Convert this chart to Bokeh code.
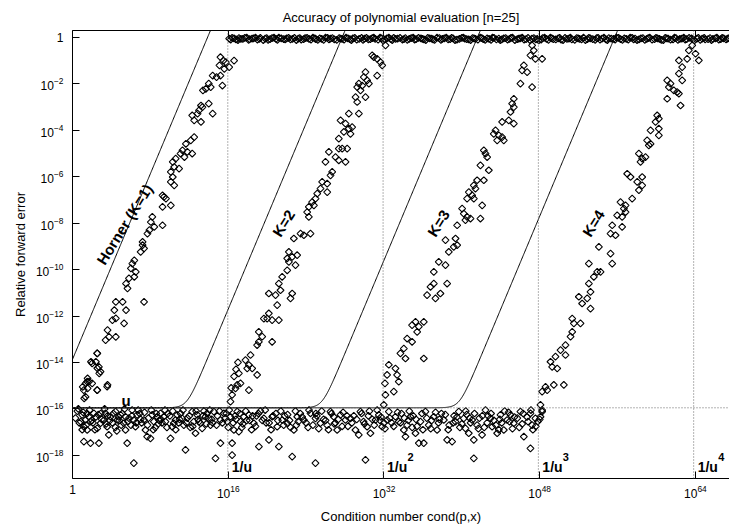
import math
import numpy as np
from bokeh.plotting import figure
from bokeh.models import LogAxis, FixedTicker, LogTickFormatter, Span, Title
from bokeh.core.properties import value
from bokeh.embed import file_html
from bokeh.resources import INLINE

FONT = "Liberation Sans"

title_text = "Accuracy of polynomial evaluation [n=25]"
x_label_text = "Condition number cond(p,x)"
y_label_text = "Relative forward error"

# unit roundoff (double precision)
u = 2.0 ** -53

# tick exponents (base 10)
x_tick_exp = [0, 16, 32, 48, 64]
y_tick_exp = [-18, -16, -14, -12, -10, -8, -6, -4, -2, 0]

# a-priori bounds: error <= u + c_K * cond, c_K = 10**exp
bound_names = ["Horner (K=1)", "K=2", "K=3", "K=4"]
bound_coef_exp = [-13.87, -27.7, -41.6, -55.7]

# powers of 1/u marked by vertical dotted lines
inv_u_powers = [1, 2, 3, 4]

# measured points: (log10 cond, log10 relative error)
horner_pts = [
    (15.2, -0.85), (15.5, -1.0), (15.75, -1.06), (16.1, -1.28), (16.6, -1.0), (15.6, -1.35), (15.1, -1.2),
    (14.4, -1.64), (14.8, -1.71), (15.2, -1.64), (14.0, -1.99), (14.2, -2.14), (15.4, -2.07), (13.4, -2.28),
    (13.7, -2.21), (13.2, -2.93), (13.0, -3.14), (12.85, -3.28), (13.35, -3.0), (14.0, -2.85), (12.3, -3.36),
    (12.5, -3.57), (13.2, -3.64), (14.4, -3.28), (12.5, -4.29), (12.15, -4.43), (11.65, -4.58), (11.3, -4.86),
    (11.1, -5.0), (11.5, -5.15), (11.8, -4.93), (12.3, -5.0), (10.6, -5.22), (10.3, -5.36), (10.45, -5.58),
    (10.95, -5.65), (10.1, -5.79), (10.3, -6.01), (10.1, -6.22), (10.45, -6.37), (9.25, -6.8), (9.4, -6.87),
    (9.6, -6.94), (9.25, -7.3), (10.1, -7.23), (8.2, -7.73), (8.05, -7.95), (8.4, -8.16), (7.9, -8.3),
    (7.7, -8.45), (9.25, -8.09), (7.2, -8.81), (7.35, -9.09), (7.0, -9.24), (7.2, -8.95), (6.35, -9.6),
    (6.15, -9.74), (6.0, -9.95), (6.5, -10.1), (5.8, -10.38), (5.5, -10.6), (5.65, -10.81), (6.35, -10.31),
    (4.45, -11.39), (5.15, -11.39), (4.3, -11.75), (5.5, -11.75), (4.45, -12.1), (4.1, -12.18), (5.3, -12.32),
    (3.6, -12.61), (3.75, -12.9), (3.4, -13.04), (4.45, -12.9), (7.35, -11.39), (2.55, -13.61), (2.4, -13.97),
    (1.9, -13.97), (2.55, -14.25), (2.75, -14.47), (1.55, -14.69), (1.35, -14.9), (1.05, -15.05), (1.7, -14.83),
    (1.55, -15.12), (1.2, -15.55), (2.55, -15.19), (3.6, -14.97), (1.16, -15.19), (1.51, -14.83), (2.02, -14.9),
    (2.53, -15.19), (1.34, -15.48), (3.56, -15.04), (2.53, -13.61), (2.02, -14.04), (2.71, -14.19), (2.88, -14.4),
]

k2_pts = [
    (30.79, -0.77), (31.3, -0.92), (31.64, -1.06), (31.82, -1.2), (30.96, -0.85), (32.16, -0.34), (31.3, -1.64),
    (30.1, -1.49), (29.93, -1.71), (30.27, -1.85), (29.42, -1.99), (29.25, -2.14), (29.76, -2.07), (30.45, -1.99),
    (29.59, -2.28), (29.08, -2.57), (30.1, -2.57), (29.25, -2.78), (28.39, -3.28), (29.42, -3.28), (27.54, -3.57),
    (28.05, -3.71), (28.39, -3.93), (28.73, -3.86), (27.88, -4.07), (28.56, -4.15), (27.36, -4.36), (26.34, -4.93),
    (27.36, -4.79), (27.71, -4.79), (28.22, -4.79), (27.02, -5.15), (27.36, -5.29), (28.05, -5.36), (25.99, -5.36),
    (26.68, -5.79), (26.51, -5.94), (25.65, -6.22), (26.17, -6.3), (25.48, -6.51), (26.17, -6.66), (25.14, -6.73),
    (24.97, -6.94), (24.62, -7.09), (24.28, -7.3), (24.8, -7.23), (24.11, -7.52), (24.28, -7.73), (24.45, -8.45),
    (23.77, -8.52), (23.43, -8.45), (22.74, -8.66), (22.23, -9.24), (22.06, -9.52), (22.57, -9.45), (23.08, -9.38),
    (22.23, -9.67), (22.91, -9.81), (22.06, -10.03), (21.54, -10.31), (21.2, -10.6), (21.37, -10.89), (20.17, -11.03),
    (20.86, -11.1), (22.57, -11.03), (22.4, -11.24), (21.03, -11.53), (20.17, -11.89), (20.0, -12.11), (20.51, -12.18),
    (19.66, -12.11), (21.2, -12.18), (19.14, -12.68), (19.49, -12.89), (19.14, -13.11), (18.97, -13.25),
    (20.51, -13.11), (18.29, -13.68), (17.77, -13.9), (18.12, -14.11), (18.46, -14.26), (17.95, -14.26),
    (18.97, -14.54), (17.09, -14.47), (17.26, -14.9), (16.92, -14.97), (16.75, -15.12), (16.4, -15.4),
    (18.12, -15.19), (16.23, -15.69), (16.3, -15.1), (16.8, -14.3), (16.6, -14.6), (17.0, -14.0),
]

k3_pts = [
    (47.22, -0.34), (47.39, -0.56), (47.05, -0.77), (47.56, -0.92), (48.25, -0.92), (46.37, -1.2), (46.19, -1.42),
    (46.71, -1.49), (46.02, -1.99), (47.22, -2.14), (45.34, -2.64), (45.17, -2.85), (45.34, -3.0), (45.0, -3.21),
    (44.82, -3.57), (45.34, -3.71), (44.14, -3.64), (43.46, -4.0), (43.28, -4.15), (43.8, -4.22), (44.14, -4.29),
    (44.31, -4.43), (43.63, -4.43), (42.26, -4.86), (42.43, -5.0), (42.6, -5.15), (41.91, -5.51), (42.77, -5.72),
    (41.57, -6.15), (42.26, -6.15), (41.23, -6.37), (41.4, -6.51), (40.72, -6.66), (41.06, -6.8), (40.54, -6.94),
    (41.23, -6.94), (42.09, -7.23), (40.03, -7.37), (40.2, -7.59), (40.54, -7.73), (40.89, -7.8), (40.37, -7.87),
    (41.91, -7.8), (39.52, -8.09), (39.35, -8.66), (39.52, -8.95), (39.17, -9.02), (38.32, -8.73), (38.66, -9.24),
    (37.63, -9.67), (38.32, -9.81), (37.12, -10.1), (37.12, -10.6), (36.78, -10.74), (36.43, -11.1), (37.8, -11.03),
    (37.29, -11.24), (38.49, -10.6), (35.24, -12.25), (34.89, -12.39), (35.58, -12.46), (36.09, -12.25),
    (35.41, -12.68), (34.38, -12.97), (34.89, -13.11), (34.04, -13.4), (33.69, -13.61), (34.21, -13.83),
    (36.09, -13.83), (33.18, -14.26), (32.32, -14.54), (33.35, -14.54), (33.52, -14.83), (33.01, -15.26),
    (32.15, -15.4), (31.98, -15.83), (32.1, -14.9), (32.5, -14.1),
]

k4_pts = [
    (63.67, -0.34), (63.32, -0.56), (64.01, -0.7), (64.35, -0.99), (63.15, -0.92), (62.3, -0.99), (62.64, -1.28),
    (62.3, -1.56), (62.64, -1.85), (61.1, -1.85), (61.44, -1.99), (61.27, -2.14), (61.78, -2.28), (62.12, -2.35),
    (62.3, -2.42), (61.1, -2.64), (62.47, -2.93), (60.07, -3.36), (60.24, -3.5), (59.9, -3.64), (59.39, -4.0),
    (60.24, -3.93), (60.24, -4.22), (59.04, -4.43), (59.39, -4.58), (59.21, -4.65), (58.19, -5.0), (58.53, -5.22),
    (58.87, -5.15), (58.36, -5.36), (56.99, -5.87), (57.33, -6.01), (58.53, -6.01), (58.02, -6.22), (58.53, -6.37),
    (58.19, -6.58), (56.3, -7.09), (56.82, -7.23), (57.5, -6.94), (56.65, -7.37), (56.82, -7.52), (56.47, -7.73),
    (55.96, -7.66), (55.45, -8.09), (56.47, -8.16), (55.28, -8.45), (55.79, -8.52), (54.08, -9.02), (55.28, -9.31),
    (55.45, -9.74), (53.05, -9.74), (53.91, -10.1), (54.25, -10.1), (53.56, -10.31), (53.05, -10.6), (53.22, -10.96),
    (52.88, -11.24), (52.02, -11.17), (52.36, -11.46), (53.22, -11.68), (51.34, -12.11), (51.51, -12.32),
    (52.19, -12.32), (51.17, -12.89), (51.34, -12.68), (50.65, -13.25), (50.14, -13.47), (50.65, -13.68),
    (49.62, -13.75), (49.11, -13.97), (49.8, -14.26), (49.28, -14.19), (50.48, -14.97), (48.6, -15.05),
    (48.25, -15.26), (48.77, -15.19), (49.45, -14.97), (48.08, -15.83), (48.25, -16.12),
]

# errors that stay at the level of u (accurate results)
floor_pts = [
    (0.99, -16.26), (1.34, -16.48), (1.68, -16.34), (1.17, -16.77), (1.85, -16.55), (2.2, -16.19), (1.17, -17.41),
    (1.85, -17.48), (2.71, -17.48), (1.51, -16.91), (2.54, -16.84), (2.88, -16.62), (3.39, -16.19), (3.56, -16.77),
    (3.73, -17.12), (3.91, -16.34), (4.42, -16.12), (4.6, -16.48), (4.93, -16.26), (5.27, -16.62), (5.45, -16.91),
    (5.62, -17.48), (5.45, -16.34), (6.13, -16.05), (6.3, -16.48), (6.64, -16.26), (6.47, -16.77), (7.33, -16.48),
    (7.5, -16.91), (7.67, -17.2), (8.01, -17.27), (8.19, -16.26), (8.36, -16.55), (8.7, -16.34), (9.04, -16.19),
    (9.38, -16.34), (9.55, -16.55), (10.24, -16.77), (10.41, -16.62), (10.07, -17.27), (10.58, -16.48),
    (10.75, -16.26), (11.27, -16.41), (11.44, -16.7), (11.61, -17.77), (12.3, -16.12), (12.47, -16.55),
    (12.64, -17.05), (12.81, -16.26), (13.15, -16.62), (13.32, -16.84), (13.66, -16.34), (13.83, -16.19),
    (14.18, -16.7), (14.52, -16.12), (14.69, -18.13), (15.2, -17.48), (15.2, -16.48), (15.55, -16.19),
    (15.89, -16.55), (16.23, -16.34), (16.4, -17.48), (16.4, -17.99), (16.58, -16.91), (16.92, -16.12),
    (17.09, -16.98), (17.26, -16.55), (17.6, -16.34), (18.12, -16.26), (18.63, -16.62), (19.15, -17.63),
    (19.66, -16.41), (20.18, -17.34), (20.52, -16.34), (21.03, -16.77), (21.2, -17.63), (21.55, -16.48),
    (22.06, -16.62), (22.57, -18.06), (22.74, -16.91), (23.09, -16.34), (6.3, -18.34),
    (23.76, -16.48), (24.45, -16.19), (24.96, -16.41), (24.96, -18.34), (25.47, -16.62), (26.16, -16.7),
    (26.5, -16.12), (26.84, -16.34), (27.19, -16.91), (27.53, -16.26), (28.04, -16.48), (28.56, -16.41),
    (29.07, -16.91), (29.41, -17.12), (29.58, -16.12), (30.1, -18.2), (30.27, -16.77), (30.61, -17.05),
    (31.13, -16.48), (31.47, -16.26), (31.81, -16.77), (32.32, -16.48), (32.5, -16.12), (33.18, -16.34),
    (33.52, -16.55), (34.04, -16.91), (34.21, -17.2), (34.38, -16.7), (34.72, -16.34), (35.24, -17.05),
    (35.58, -17.48), (36.09, -17.48), (35.75, -16.55), (36.26, -16.12), (36.6, -16.7), (37.12, -16.34),
    (37.46, -16.91), (38.15, -16.48), (38.49, -17.34), (39.0, -17.41), (39.34, -16.55), (39.69, -16.12),
    (40.2, -16.41), (40.37, -16.84), (40.71, -17.05), (41.06, -16.48), (41.23, -18.13), (41.23, -17.34),
    (41.57, -16.7), (42.08, -17.12), (42.43, -16.05), (42.94, -16.41), (43.11, -16.77), (43.63, -17.05),
    (43.97, -16.26), (44.31, -16.91), (44.65, -16.48), (45.0, -16.26), (45.34, -16.62), (46.02, -16.12),
    (46.37, -17.2), (47.05, -16.19), (47.22, -16.7), (47.05, -17.7), (47.56, -16.41), (48.08, -16.34),
    (48.25, -16.05),
    (0.5, -16.1), (0.7, -16.6), (1.0, -16.9), (1.5, -16.2), (2.0, -16.5), (2.4, -16.35), (2.9, -16.2),
    (3.2, -16.5), (3.6, -16.3), (4.1, -16.6), (4.4, -16.8), (4.8, -16.5), (5.1, -16.2), (5.8, -16.4),
    (6.0, -16.7), (6.9, -16.2), (7.1, -16.6), (7.8, -16.4), (8.5, -16.8), (8.9, -16.5), (9.2, -16.6),
    (9.8, -16.2), (10.9, -16.6), (11.1, -16.2), (11.8, -16.4), (12.1, -16.8), (12.9, -16.45), (13.5, -16.1),
    (14.0, -16.4), (14.4, -16.6), (14.9, -16.3), (15.7, -16.4), (16.0, -16.8), (16.7, -16.3), (17.4, -16.8),
    (17.9, -16.5), (18.4, -16.9), (18.9, -16.3), (19.3, -16.1), (19.9, -16.6), (20.4, -16.9), (20.9, -16.2),
    (21.8, -16.3), (22.3, -16.5), (23.0, -16.7), (23.4, -16.2), (24.2, -16.8), (25.1, -16.3), (25.8, -16.45),
    (26.3, -16.9), (27.0, -16.6), (27.8, -16.15), (28.3, -16.75), (28.9, -16.3), (29.9, -16.55), (30.4, -16.3),
    (31.0, -16.7), (31.6, -16.5), (32.1, -16.85), (32.8, -16.6), (33.8, -16.2), (34.5, -16.5), (35.0, -16.3),
    (35.4, -16.75), (36.0, -16.9), (36.9, -16.5), (37.6, -16.6), (37.9, -16.2), (38.7, -16.7), (39.2, -16.3),
    (39.8, -16.8), (40.5, -16.25), (40.9, -16.6), (41.8, -16.4), (42.3, -16.8), (42.7, -16.3), (43.3, -16.5),
    (43.8, -16.9), (44.1, -16.6), (44.8, -16.15), (45.2, -16.85), (45.7, -16.4), (46.2, -16.65), (46.7, -16.35),
    (47.3, -16.9), (47.8, -16.55),
    (0.3, -16.4), (0.6, -16.0), (0.85, -16.55), (1.1, -16.15), (1.4, -16.7), (1.75, -16.05), (2.1, -16.6),
    (2.3, -16.9), (2.65, -16.25), (3.0, -16.45), (3.3, -16.0), (3.45, -16.65), (3.85, -16.5), (4.2, -16.2),
    (4.55, -16.95), (4.75, -16.35), (5.0, -16.7), (5.35, -16.0), (5.7, -16.55), (6.1, -16.3), (6.55, -16.6),
    (6.75, -16.05), (7.0, -16.45), (7.4, -16.15), (7.7, -16.7), (8.1, -16.05), (8.3, -16.9), (8.6, -16.2),
    (8.8, -16.65), (9.1, -16.45), (9.5, -16.05), (9.7, -16.8), (10.0, -16.3), (10.3, -16.1), (10.6, -16.9),
    (11.0, -16.45), (11.35, -16.05), (11.7, -16.6), (12.0, -16.3), (12.35, -16.75), (12.7, -16.1), (13.0, -16.55),
    (13.4, -16.3), (13.75, -16.65), (14.1, -16.05), (14.3, -16.45), (14.8, -16.7), (15.1, -16.1), (15.4, -16.6),
    (15.8, -16.2), (16.1, -16.05), (16.5, -16.6), (16.8, -16.45), (17.2, -16.2), (17.5, -16.65), (17.8, -16.1),
    (18.2, -16.5), (18.5, -16.3), (18.8, -16.75), (19.1, -16.2), (19.5, -16.5), (19.8, -16.05), (20.2, -16.6),
    (20.6, -16.3), (21.1, -16.5), (21.4, -16.1), (21.7, -16.7), (22.1, -16.25), (22.4, -16.8), (22.9, -16.1),
    (23.2, -16.55), (23.6, -16.35), (24.0, -16.6), (24.3, -16.05), (24.7, -16.7), (25.0, -16.2), (25.3, -16.85),
    (25.6, -16.1), (26.0, -16.5), (26.6, -16.2), (26.9, -16.65), (27.3, -16.45), (27.7, -16.75), (28.2, -16.3),
    (28.7, -16.6), (29.2, -16.45), (29.7, -16.2), (30.0, -16.65), (30.5, -16.1), (30.8, -16.45), (31.3, -16.05),
    (31.7, -16.35), (32.0, -16.6), (32.6, -16.4), (33.0, -16.75), (33.4, -16.15), (33.7, -16.6), (34.1, -16.4),
    (34.6, -16.1), (34.9, -16.8), (35.3, -16.45), (35.9, -16.2), (36.4, -16.4), (36.8, -16.85), (37.3, -16.15),
    (37.7, -16.45), (38.3, -16.25), (38.6, -16.9), (39.1, -16.6), (39.5, -16.35), (40.0, -16.65), (40.4, -16.1),
    (40.8, -16.4), (41.3, -16.2), (41.7, -16.85), (42.1, -16.3), (42.6, -16.6), (43.0, -16.2), (43.5, -16.7),
    (43.9, -16.45), (44.4, -16.1), (44.9, -16.55), (45.4, -16.35), (45.9, -16.8), (46.3, -16.2), (46.8, -16.55),
    (47.1, -16.05), (47.6, -16.75), (48.0, -16.45),
]

# errors saturated at about 1 (no correct digit)
top_pts = [
    (16.1, -0.05), (16.4, -0.02), (16.8, -0.08), (17.1, -0.03), (17.5, -0.06), (17.9, -0.01), (18.2, -0.07),
    (18.6, -0.04), (19.0, -0.09), (19.3, -0.02), (19.8, -0.05), (20.1, -0.1), (20.5, -0.03), (20.9, -0.06),
    (21.2, -0.01), (21.7, -0.07), (22.0, -0.04), (22.4, -0.08), (22.8, -0.02), (23.2, -0.05), (23.5, -0.09),
    (23.9, -0.03), (24.3, -0.06), (24.7, -0.01), (25.0, -0.07), (25.4, -0.04), (25.8, -0.1), (26.2, -0.02),
    (26.5, -0.05), (26.9, -0.08), (27.4, -0.03), (27.7, -0.06), (28.1, -0.01), (28.5, -0.07), (28.8, -0.04),
    (29.2, -0.09), (29.7, -0.02), (30.0, -0.05), (30.4, -0.08), (30.8, -0.03), (31.1, -0.06), (31.6, -0.01),
    (31.9, -0.12), (32.3, -0.04), (32.7, -0.07), (33.0, -0.02), (33.4, -0.05), (33.9, -0.09), (34.2, -0.03),
    (34.6, -0.06), (35.0, -0.01), (35.3, -0.07), (35.8, -0.04), (36.1, -0.08), (36.5, -0.02), (36.9, -0.05),
    (37.2, -0.1), (37.7, -0.03), (38.0, -0.06), (38.4, -0.01), (38.8, -0.07), (39.1, -0.04), (39.5, -0.09),
    (40.0, -0.02), (40.3, -0.05), (40.7, -0.08), (41.1, -0.03), (41.4, -0.06), (41.9, -0.01), (42.2, -0.07),
    (42.6, -0.04), (43.0, -0.1), (43.3, -0.02), (43.8, -0.05), (44.1, -0.08), (44.5, -0.03), (44.9, -0.06),
    (45.2, -0.01), (45.7, -0.07), (46.0, -0.04), (46.4, -0.09), (46.8, -0.02), (47.2, -0.05), (47.6, -0.08),
    (47.9, -0.12), (48.3, -0.03), (48.7, -0.06), (49.1, -0.01), (49.4, -0.07), (49.9, -0.04), (50.2, -0.09),
    (50.6, -0.02), (51.0, -0.05), (51.3, -0.08), (51.8, -0.03), (52.1, -0.06), (52.5, -0.01), (52.9, -0.07),
    (53.2, -0.04), (53.7, -0.1), (54.0, -0.02), (54.4, -0.05), (54.8, -0.08), (55.1, -0.03), (55.6, -0.06),
    (55.9, -0.01), (56.3, -0.07), (56.7, -0.04), (57.1, -0.09), (57.5, -0.02), (57.8, -0.05), (58.2, -0.08),
    (58.6, -0.03), (59.0, -0.06), (59.3, -0.01), (59.8, -0.07), (60.1, -0.04), (60.5, -0.1), (60.9, -0.02),
    (61.2, -0.05), (61.7, -0.08), (62.0, -0.03), (62.4, -0.06), (62.8, -0.01), (63.1, -0.07), (63.6, -0.04),
    (63.9, -0.12), (64.3, -0.02), (64.7, -0.05), (65.0, -0.08), (65.5, -0.03), (65.8, -0.06), (66.2, -0.01),
    (66.6, -0.07), (66.9, -0.04), (67.3, -0.05),
    (16.25, -0.09), (16.6, -0.04), (17.0, -0.11), (17.3, -0.06), (17.7, -0.02), (18.1, -0.1), (18.45, -0.05),
    (18.8, -0.01), (19.2, -0.06), (19.6, -0.11), (19.95, -0.03), (20.3, -0.07), (20.7, -0.01), (21.05, -0.1),
    (21.45, -0.04), (21.85, -0.08), (22.2, -0.02), (22.6, -0.06), (23.0, -0.11), (23.35, -0.03), (23.75, -0.07),
    (24.1, -0.02), (24.5, -0.09), (24.9, -0.04), (25.2, -0.1), (25.6, -0.06), (26.0, -0.01), (26.35, -0.08),
    (26.7, -0.03), (27.15, -0.1), (27.55, -0.05), (27.9, -0.09), (28.3, -0.04), (28.65, -0.11), (29.0, -0.02),
    (29.45, -0.06), (29.85, -0.1), (30.2, -0.02), (30.6, -0.07), (30.95, -0.01), (31.4, -0.09), (31.75, -0.04),
    (32.1, -0.08), (32.5, -0.01), (32.85, -0.11), (33.2, -0.06), (33.65, -0.02), (34.05, -0.07), (34.4, -0.1),
    (34.8, -0.03), (35.15, -0.09), (35.55, -0.02), (35.95, -0.06), (36.3, -0.11), (36.7, -0.04), (37.05, -0.08),
    (37.45, -0.01), (37.85, -0.1), (38.2, -0.04), (38.6, -0.08), (38.95, -0.02), (39.3, -0.11), (39.75, -0.06),
    (40.15, -0.01), (40.5, -0.07), (40.9, -0.11), (41.25, -0.04), (41.65, -0.09), (42.05, -0.03), (42.4, -0.1),
    (42.8, -0.06), (43.15, -0.01), (43.55, -0.08), (43.95, -0.11), (44.3, -0.04), (44.7, -0.09), (45.05, -0.02),
    (45.45, -0.11), (45.85, -0.05), (46.2, -0.01), (46.6, -0.07), (47.0, -0.11), (47.4, -0.03), (47.75, -0.06),
    (48.15, -0.09), (48.5, -0.01), (48.9, -0.1), (49.25, -0.04), (49.65, -0.08), (50.05, -0.02), (50.4, -0.11),
    (50.8, -0.06), (51.15, -0.01), (51.6, -0.1), (51.95, -0.04), (52.3, -0.08), (52.7, -0.11), (53.05, -0.02),
    (53.45, -0.07), (53.85, -0.03), (54.2, -0.09), (54.6, -0.01), (54.95, -0.11), (55.35, -0.05), (55.75, -0.09),
    (56.1, -0.02), (56.5, -0.1), (56.9, -0.06), (57.3, -0.01), (57.65, -0.08), (58.0, -0.11), (58.4, -0.04),
    (58.8, -0.1), (59.15, -0.03), (59.55, -0.09), (59.95, -0.02), (60.3, -0.06), (60.7, -0.11), (61.05, -0.04),
    (61.45, -0.09), (61.85, -0.01), (62.2, -0.1), (62.6, -0.05), (62.95, -0.09), (63.35, -0.02), (63.75, -0.08),
    (64.15, -0.05), (64.5, -0.1), (64.9, -0.02), (65.3, -0.07), (65.65, -0.11), (66.05, -0.04), (66.4, -0.09),
    (66.75, -0.02), (67.15, -0.08), (67.45, -0.03),
]

X_MAX_EXP = 67.5
p = figure(width=729, height=526, x_axis_type="log", y_axis_type="log",
           x_range=(1.0, 10 ** X_MAX_EXP), y_range=(1e-19, 2.0),
           output_backend="svg", toolbar_location=None,
           min_border_left=72, min_border_right=0, min_border_top=30, min_border_bottom=48)
p.outline_line_color = None
p.grid.visible = False
p.background_fill_color = "white"
p.border_fill_color = "white"

# title
p.title.text = title_text
p.title.align = "center"
p.title.offset = 2.5
p.title.standoff = 12
p.title.text_font = FONT
p.title.text_font_size = "13px"
p.title.text_font_style = "normal"
p.title.text_color = "black"

x_ticks = [10.0 ** e for e in x_tick_exp]
y_ticks = [10.0 ** e for e in y_tick_exp]


def style_axis(ax, ticks, labels=True, tick_in=7):
    ax.ticker = FixedTicker(ticks=ticks, minor_ticks=[])
    ax.formatter = LogTickFormatter(min_exponent=1)
    ax.major_tick_in = tick_in
    ax.major_tick_out = 0
    ax.minor_tick_in = 0
    ax.minor_tick_out = 0
    ax.major_tick_line_color = "black"
    ax.major_tick_line_width = 1
    ax.axis_line_color = "black"
    ax.axis_line_width = 1
    ax.major_label_text_font = FONT
    ax.major_label_text_font_size = "12px" if labels else "1px"
    ax.major_label_text_color = "black" if labels else None
    ax.major_label_text_font_style = "normal"


style_axis(p.xaxis[0], x_ticks)
p.xaxis[0].major_label_standoff = 6
p.xaxis[0].axis_label = x_label_text
p.xaxis[0].axis_label_standoff = 8
p.xaxis[0].axis_label_text_font = FONT
p.xaxis[0].axis_label_text_font_size = "13px"
p.xaxis[0].axis_label_text_font_style = "normal"
p.xaxis[0].axis_label_text_color = "black"

style_axis(p.yaxis[0], y_ticks)
p.yaxis[0].major_label_standoff = 9

top_axis = LogAxis()
style_axis(top_axis, x_ticks, labels=False)
top_axis.major_label_standoff = 0
p.add_layout(top_axis, "above")

p.add_layout(Title(text=y_label_text, align="center", offset=9, standoff=9,
                   text_font=FONT, text_font_size="13px", text_font_style="normal",
                   text_color="black"), "left")

# dotted reference lines
dot = dict(line_color="#666666", line_width=1, line_dash="1 2")
p.add_layout(Span(location=u, dimension="width", **dot))
for k in inv_u_powers:
    p.add_layout(Span(location=u ** (-k), dimension="height", **dot))

# bound curves
grid_exp = np.arange(0.0, X_MAX_EXP + 0.05, 0.05)
cond_grid = 10.0 ** grid_exp
for cexp in bound_coef_exp:
    p.line(cond_grid, u + (10.0 ** cexp) * cond_grid, line_color="black", line_width=1)

# measured points
all_pts = horner_pts + k2_pts + k3_pts + k4_pts + floor_pts + top_pts
px = [10.0 ** a for a, b in all_pts]
py = [10.0 ** b for a, b in all_pts]
p.scatter(px, py, marker="square", size=4.9, angle=math.pi / 4,
          fill_color=None, line_color="black", line_width=1.1)

# curve labels (rotated along the bounds)
lab_x_exp = [5.34, 21.68, 37.6, 53.52]
lab_y_exp = [-8.05, -8.0, -8.0, -8.0]
p.text([10.0 ** e for e in lab_x_exp], [10.0 ** e for e in lab_y_exp], text=bound_names,
       angle=math.radians(58), text_font=value(FONT), text_font_style="bold",
       text_font_size="15px", text_align="center", text_baseline="middle", text_color="black")

# u label
p.text([10.0 ** 5.5], [10.0 ** -15.65], text=["u"], text_font=value(FONT), text_font_style="bold",
       text_font_size="15px", text_align="center", text_baseline="alphabetic", text_color="black")

# 1/u^k labels
inv_x = [u ** (-k) for k in inv_u_powers]
p.text(inv_x, [10.0 ** -18.5] * len(inv_x), text=["1/u"] * len(inv_x), x_offset=4,
       text_font=value(FONT), text_font_style="bold", text_font_size="14px",
       text_align="left", text_baseline="alphabetic", text_color="black")
sup_x = [u ** (-k) for k in inv_u_powers if k > 1]
p.text(sup_x, [10.0 ** -18.5] * len(sup_x), text=[str(k) for k in inv_u_powers if k > 1],
       x_offset=24.5, y_offset=-10, text_font=value(FONT), text_font_style="bold",
       text_font_size="11px", text_align="left", text_baseline="alphabetic", text_color="black")

open("out.html", "w").write(file_html(p, INLINE))
